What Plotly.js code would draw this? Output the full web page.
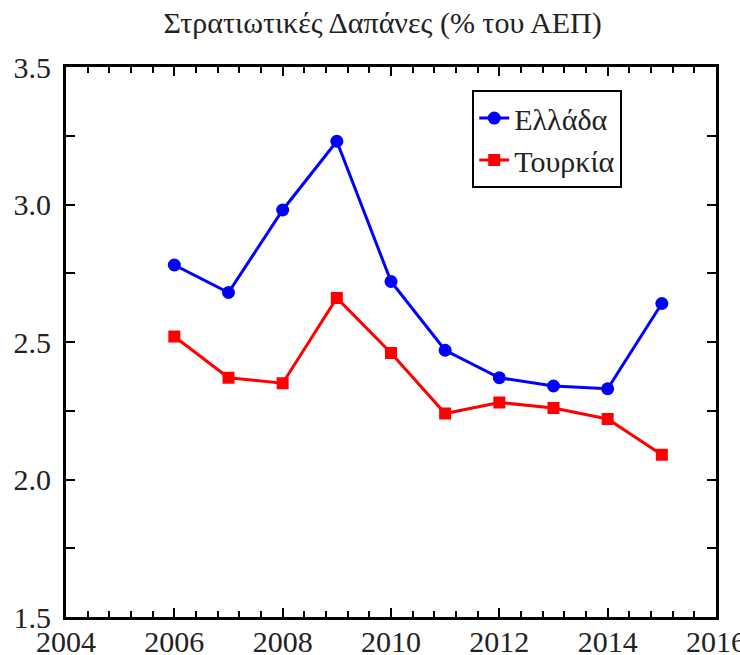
<!DOCTYPE html>
<html>
<head>
<meta charset="utf-8">
<script src="https://cdn.plot.ly/plotly-3.0.1.min.js"></script>
<style>html,body{margin:0;padding:0;background:#fff;}#chart{width:740px;height:655px;}
#chart svg text{font-family:'Liberation Serif','Times New Roman',serif !important;}</style>
</head>
<body>
<div id="chart"></div>
<script>
const years = [2006, 2007, 2008, 2009, 2010, 2011, 2012, 2013, 2014, 2015];
const greece = [2.78, 2.68, 2.98, 3.23, 2.72, 2.47, 2.37, 2.34, 2.33, 2.64];
const turkey = [2.52, 2.37, 2.35, 2.66, 2.46, 2.24, 2.28, 2.26, 2.22, 2.09];
const seriesNames = ['Ελλάδα', 'Τουρκία'];
const titleText = 'Στρατιωτικές Δαπάνες (% του ΑΕΠ)';

const SERIF = 'Liberation Serif';

const traces = [
  {x: years, y: greece, name: seriesNames[0], type: 'scatter', mode: 'lines+markers',
   line: {color: '#0000ff', width: 3}, marker: {symbol: 'circle', size: 13, color: '#0000ff'}},
  {x: years, y: turkey, name: seriesNames[1], type: 'scatter', mode: 'lines+markers',
   line: {color: '#ff0000', width: 3}, marker: {symbol: 'square', size: 12, color: '#ff0000'}}
];

const layout = {
  width: 740, height: 655,
  margin: {l: 66, r: 24, t: 67, b: 38},
  paper_bgcolor: '#fff', plot_bgcolor: '#fff',
  font: {family: SERIF, size: 28, color: '#222'},
  title: {text: titleText, font: {family: SERIF, size: 30, color: '#222'}, x: 0.517, xanchor: 'center', y: 0.965, yanchor: 'middle'},
  showlegend: true,
  legend: {x: 0.625, y: 0.958, xanchor: 'left', yanchor: 'top', bordercolor: '#000', borderwidth: 2,
           bgcolor: '#fff', font: {family: SERIF, size: 30, color: '#222'}, tracegroupgap: 0, itemwidth: 30},
  xaxis: {range: [2004, 2016], dtick: 2, tick0: 2004, showgrid: false, zeroline: false,
          ticks: 'inside', ticklen: 9, tickwidth: 2, tickcolor: '#000',
          showline: true, linecolor: '#000', linewidth: 3, mirror: 'allticks',
          minor: {dtick: 0.4, tick0: 2004, ticks: 'inside', ticklen: 6, tickwidth: 2, tickcolor: '#000', showgrid: false},
          tickfont: {family: SERIF, size: 30, color: '#222'}, ticklabelstandoff: -4, ticklabeloverflow: 'allow'},
  yaxis: {range: [1.5, 3.5], dtick: 0.5, tick0: 1.5, tickformat: '.1f', showgrid: false, zeroline: false,
          ticks: 'inside', ticklen: 9, tickwidth: 2, tickcolor: '#000',
          showline: true, linecolor: '#000', linewidth: 3, mirror: 'allticks',
          minor: {dtick: 0.25, ticks: 'inside', ticklen: 9, tickwidth: 2, tickcolor: '#000', showgrid: false},
          tickfont: {family: SERIF, size: 30, color: '#222'}, ticklabelstandoff: 6, ticklabeloverflow: 'allow'}
};

Plotly.newPlot('chart', traces, layout, {displayModeBar: false, staticPlot: true});
</script>
</body>
</html>
